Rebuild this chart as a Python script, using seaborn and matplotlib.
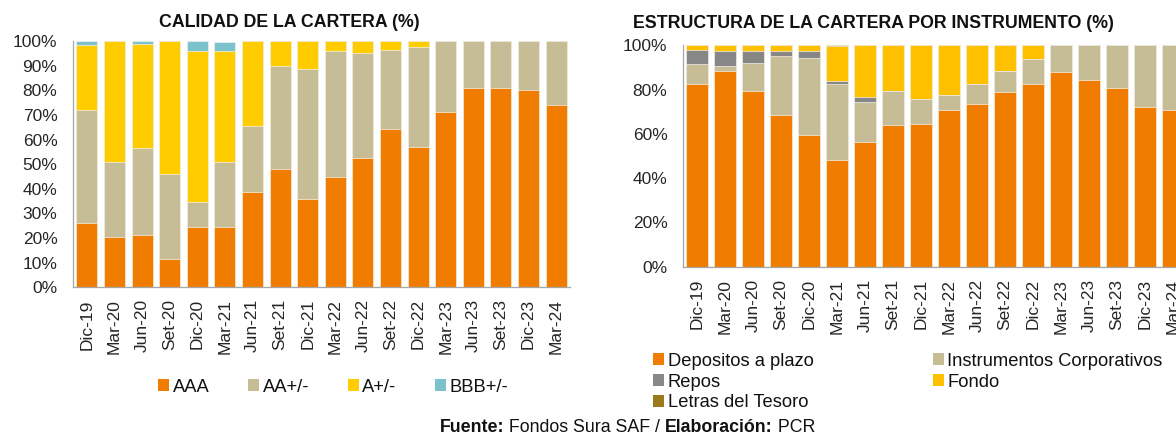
import numpy as np
import matplotlib
matplotlib.use("Agg")
import matplotlib.pyplot as plt
from matplotlib.patches import Patch
import seaborn as sns

# ---------------- data ----------------
periods = ["Dic-19", "Mar-20", "Jun-20", "Set-20", "Dic-20", "Mar-21", "Jun-21",
           "Set-21", "Dic-21", "Mar-22", "Jun-22", "Set-22", "Dic-22", "Mar-23",
           "Jun-23", "Set-23", "Dic-23", "Mar-24"]

# Calidad de la cartera (%)
aaa = [26.0, 20.4, 21.4, 11.4, 24.5, 24.5, 38.7, 48.2, 35.9, 44.9, 52.6, 64.3,
       57.1, 71.0, 81.1, 81.1, 80.0, 74.0]
aa = [46.0, 30.6, 35.2, 34.7, 10.3, 26.5, 26.8, 41.8, 52.9, 51.2, 42.5, 32.2,
      40.5, 29.0, 18.9, 18.9, 20.0, 26.0]
a_pm = [26.4, 49.0, 42.3, 53.9, 61.1, 44.8, 34.5, 10.0, 11.2, 3.9, 4.9, 3.5,
        2.4, 0, 0, 0, 0, 0]
bbb = [1.6, 0, 1.1, 0, 4.1, 3.8, 0, 0, 0, 0, 0, 0, 0, 0, 0, 0, 0, 0]
quality_labels = ["AAA", "AA+/-", "A+/-", "BBB+/-"]

# Estructura de la cartera por instrumento (%)
depositos = [82.5, 88.4, 79.4, 68.4, 59.6, 48.3, 56.3, 64.0, 64.5, 70.9, 73.6,
             79.1, 82.7, 88.0, 84.5, 80.9, 72.3, 70.9]
instrumentos = [9.1, 2.4, 12.6, 26.9, 34.8, 34.2, 18.2, 15.2, 11.1, 6.5, 8.8,
                9.3, 11.3, 12.0, 15.5, 19.1, 27.7, 29.1]
repos = [6.1, 6.8, 5.6, 2.3, 3.0, 1.5, 2.0, 0, 0, 0, 0, 0, 0, 0, 0, 0, 0, 0]
fondo = [2.3, 2.4, 2.4, 2.4, 2.6, 15.7, 23.5, 20.8, 24.4, 22.6, 17.6, 11.6,
         6.0, 0, 0, 0, 0, 0]
letras = [0, 0, 0, 0, 0, 0.3, 0, 0, 0, 0, 0, 0, 0, 0, 0, 0, 0, 0]
instr_labels = ["Depositos a plazo", "Instrumentos Corporativos", "Repos",
                "Fondo", "Letras del Tesoro"]

# ---------------- style ----------------
sns.set_style("white")
plt.rcParams["font.family"] = ["Liberation Sans", "DejaVu Sans"]
plt.rcParams["text.color"] = "#111111"

C_ORANGE = "#F07D00"
C_BEIGE = "#C6BD97"
C_YELLOW = "#FFCC00"
C_TEAL = "#7BC2CC"
C_GRAY = "#878787"
C_FONDO = "#FFC000"
C_LETRAS = "#9C7A1C"
AXIS_C = "#A6A6A6"

fig = plt.figure(figsize=(11.76, 4.36), dpi=100)
W, H = 1176.0, 436.0
ax1 = fig.add_axes([73 / W, 1 - 287.3 / H, 497 / W, 246.3 / H])
ax2 = fig.add_axes([683 / W, 1 - 266.7 / H, 504 / W, 221.4 / H])


def stacked(ax, series, colors):
    cum = np.cumsum(np.array(series, dtype=float), axis=0)
    for i in range(len(series) - 1, -1, -1):
        sns.barplot(x=periods, y=cum[i], color=colors[i], width=0.76, ax=ax,
                    errorbar=None, saturation=1, edgecolor="#F4F1EA",
                    linewidth=0.5)


def style_axis(ax, yticks):
    n = len(periods)
    ax.set_xlim(-0.5, n - 0.5)
    ax.set_ylim(0, 100)
    ax.set_xlabel("")
    ax.set_ylabel("")
    for s in ["top", "right"]:
        ax.spines[s].set_visible(False)
    for s in ["left", "bottom"]:
        ax.spines[s].set_color(AXIS_C)
        ax.spines[s].set_linewidth(0.9)
    ax.set_xticks(range(n))
    ax.set_xticklabels(periods, rotation=90, fontsize=12.5)
    ax.set_xticks(np.arange(-0.5, n, 1.0), minor=True)
    ax.tick_params(axis="x", which="both", length=3.6, width=0.8,
                   color=AXIS_C, direction="out", pad=5)
    ax.set_yticks(yticks)
    ax.set_yticklabels([f"{v}%" for v in yticks], fontsize=12.5)
    ax.tick_params(axis="y", which="both", length=3.2, width=0.8,
                   color=AXIS_C, direction="out", pad=8)
    ax.grid(False)


stacked(ax1, [aaa, aa, a_pm, bbb], [C_ORANGE, C_BEIGE, C_YELLOW, C_TEAL])
style_axis(ax1, list(range(0, 101, 10)))

stacked(ax2, [depositos, instrumentos, repos, fondo, letras],
        [C_ORANGE, C_BEIGE, C_GRAY, C_FONDO, C_LETRAS])
style_axis(ax2, list(range(0, 101, 20)))

# titles
fig.text(289.5 / W, 1 - 26.7 / H, "CALIDAD DE LA CARTERA (%)", ha="center",
         va="baseline", fontsize=12.8, fontweight="bold")
fig.text(873 / W, 1 - 28 / H, "ESTRUCTURA DE LA CARTERA POR INSTRUMENTO (%)",
         ha="center", va="baseline", fontsize=12.8, fontweight="bold")

# legends
h1 = [Patch(facecolor=c, edgecolor="none") for c in
      [C_ORANGE, C_BEIGE, C_YELLOW, C_TEAL]]
fig.legend(h1, quality_labels, loc="center left",
           bbox_to_anchor=(158 / W, 1 - 387 / H), ncol=4, frameon=False,
           fontsize=13.2, handlelength=0.6, handleheight=0.6,
           handletextpad=0.2, columnspacing=2.1, borderpad=0,
           borderaxespad=0)

instr_colors = [C_ORANGE, C_BEIGE, C_GRAY, C_FONDO, C_LETRAS]
order = [0, 2, 4, 1, 3]
h2 = [Patch(facecolor=instr_colors[i], edgecolor="none") for i in order]
fig.legend(h2, [instr_labels[i] for i in order], loc="center left",
           bbox_to_anchor=(653 / W, 1 - 382 / H), ncol=2, frameon=False,
           fontsize=13.2, handlelength=0.6, handleheight=0.6,
           handletextpad=0.2, columnspacing=6.5, labelspacing=0.21,
           borderpad=0, borderaxespad=0)

# footer with mixed bold / regular parts
parts = [("Fuente:", "bold"), (" Fondos Sura SAF / ", "normal"),
         ("Elaboración:", "bold"), (" PCR", "normal")]
fig.canvas.draw()
renderer = fig.canvas.get_renderer()
texts = []
x = 0.0
for s, w in parts:
    t = fig.text(x, 1 - 431.7 / H, s, ha="left", va="baseline",
                 fontsize=12.8, fontweight=w)
    bb = t.get_window_extent(renderer)
    x += bb.width / (W)
    texts.append(t)
total = x
start = 627.5 / W - total / 2
x = start
for t in texts:
    t.set_x(x)
    x += t.get_window_extent(renderer).width / W

fig.savefig("out.png", dpi=100)
